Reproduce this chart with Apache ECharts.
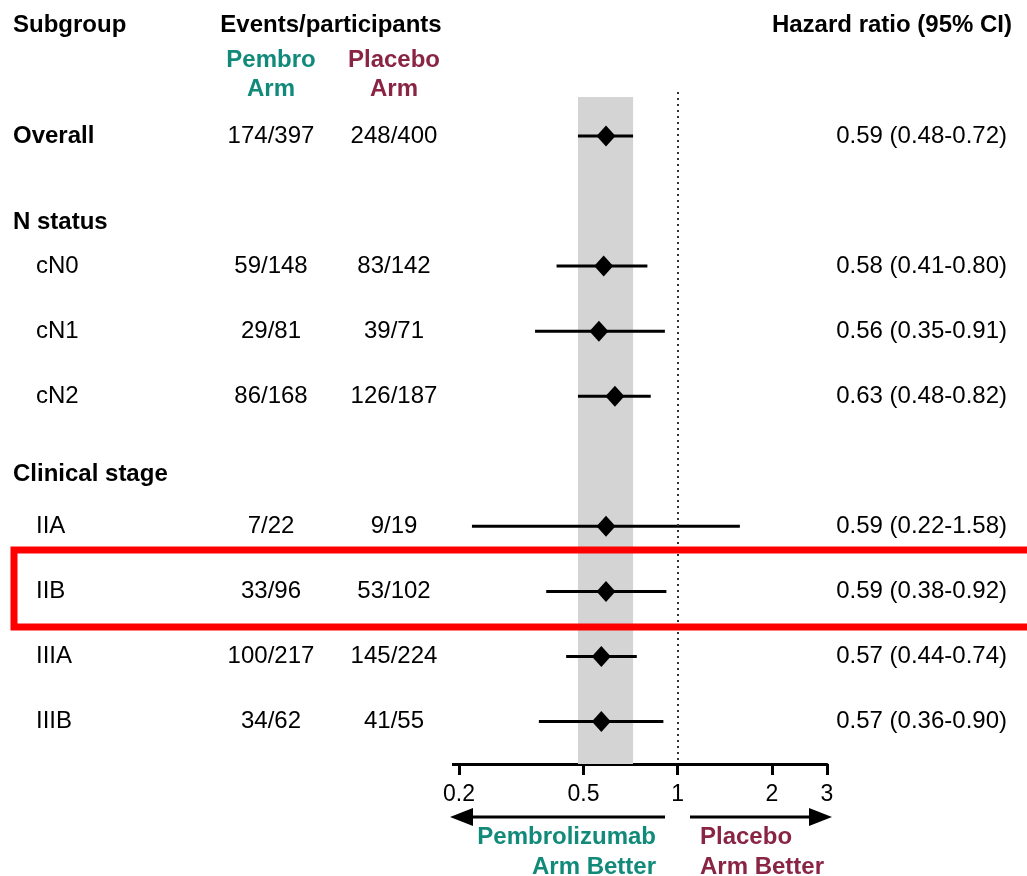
<!DOCTYPE html>
<html>
<head>
<meta charset="utf-8">
<title>Forest plot – subgroup hazard ratios</title>
<script src="https://cdn.jsdelivr.net/npm/echarts@6/dist/echarts.min.js"></script>
<style>
  html, body { margin: 0; padding: 0; background: #fff; }
  #chart { width: 1027px; height: 876px; }
</style>
</head>
<body>
<div id="chart"></div>
<script>
// ---- data ----
const subgroups = ['Overall', 'cN0', 'cN1', 'cN2', 'IIA', 'IIB', 'IIIA', 'IIIB'];
const sectionHeaders = ['N status', 'Clinical stage'];
const pembroEvents = [174, 59, 29, 86, 7, 33, 100, 34];
const pembroTotal = [397, 148, 81, 168, 22, 96, 217, 62];
const placeboEvents = [248, 83, 39, 126, 9, 53, 145, 41];
const placeboTotal = [400, 142, 71, 187, 19, 102, 224, 55];
const hazardRatio = [0.59, 0.58, 0.56, 0.63, 0.59, 0.59, 0.57, 0.57];
const ciLow = [0.48, 0.41, 0.35, 0.48, 0.22, 0.38, 0.44, 0.36];
const ciHigh = [0.72, 0.80, 0.91, 0.82, 1.58, 0.92, 0.74, 0.90];
const axisTicks = [0.2, 0.5, 1, 2, 3];

// ---- layout (row slots on the shared vertical scale) ----
const subgroupSlot = [0, 2, 3, 4, 6, 7, 8, 9];
const subgroupIndented = [false, true, true, true, true, true, true, true];
const headerSlot = [1.33, 5.2];
const Y_MIN = -0.676, Y_MAX = 9.653, BAND_TOP = -0.6;
const GRID_TOP = 92, GRID_H = 672;
const COL_NAME = 13, COL_INDENT = 36, COL_PEMBRO = 271, COL_PLACEBO = 394, COL_HR = 1007;

const TEAL = '#118a7a';
const MAROON = '#8a2444';
const FONT = '"Liberation Sans", Arial, Helvetica, sans-serif';
const FS = 24;

const fmt = v => v.toFixed(2);

const chart = echarts.init(document.getElementById('chart'), null, { renderer: 'canvas' });

const nameData = subgroups.map((s, i) => ({ value: [subgroupIndented[i] ? COL_INDENT : COL_NAME, subgroupSlot[i]], name: s }));
// "Overall" is set in bold like the section headers
const boldNameData = nameData.filter((d, i) => !subgroupIndented[i])
  .concat(sectionHeaders.map((h, i) => ({ value: [COL_NAME, headerSlot[i]], name: h })));
const plainNameData = nameData.filter((d, i) => subgroupIndented[i]);

const pembroData = subgroups.map((s, i) => ({ value: [COL_PEMBRO, subgroupSlot[i]], name: pembroEvents[i] + '/' + pembroTotal[i] }));
const placeboData = subgroups.map((s, i) => ({ value: [COL_PLACEBO, subgroupSlot[i]], name: placeboEvents[i] + '/' + placeboTotal[i] }));
const hrTextData = subgroups.map((s, i) => ({
  value: [COL_HR, subgroupSlot[i]],
  name: fmt(hazardRatio[i]) + ' (' + fmt(ciLow[i]) + '-' + fmt(ciHigh[i]) + ')'
}));

const textLabel = (extra) => Object.assign({
  show: true, formatter: p => p.name, color: '#000',
  fontSize: FS, fontFamily: FONT
}, extra);

const textSeries = (data, label) => ({
  type: 'scatter', xAxisIndex: 1, yAxisIndex: 1, silent: true,
  symbolSize: 0, itemStyle: { opacity: 1 }, data: data, label: label, z: 5
});

const txt = (text, x, y, align, color, extra) => ({
  type: 'text',
  style: Object.assign({
    text: text, x: x, y: y,
    textAlign: align, align: align,
    textVerticalAlign: 'middle', verticalAlign: 'middle',
    fill: color, font: 'bold ' + FS + 'px ' + FONT
  }, extra || {})
});

const option = {
  animation: false,
  backgroundColor: '#ffffff',
  grid: [
    { left: 459, width: 368, top: GRID_TOP, height: GRID_H },
    { left: 0, width: 1027, top: GRID_TOP, height: GRID_H }
  ],
  xAxis: [
    {
      type: 'log', logBase: 10, min: 0.2, max: 3, gridIndex: 0,
      splitLine: { show: false },
      axisLine: { show: true, onZero: false, lineStyle: { color: '#000', width: 3 } },
      axisTick: { show: true, customValues: axisTicks, length: 11, inside: false, lineStyle: { color: '#000', width: 3 } },
      minorTick: { show: false },
      axisLabel: {
        show: true, customValues: axisTicks, margin: 19, color: '#000',
        fontSize: 23, fontFamily: FONT,
        formatter: v => String(+(+v).toPrecision(6))
      }
    },
    { type: 'value', min: 0, max: 1027, gridIndex: 1, show: false }
  ],
  yAxis: [
    { type: 'value', min: Y_MIN, max: Y_MAX, inverse: true, gridIndex: 0, show: false },
    { type: 'value', min: Y_MIN, max: Y_MAX, inverse: true, gridIndex: 1, show: false }
  ],
  series: [
    // confidence-interval whiskers, with the overall CI band and the line of no effect
    {
      type: 'custom', xAxisIndex: 0, yAxisIndex: 0, silent: true, z: 3,
      data: subgroups.map((s, i) => [ciLow[i], ciHigh[i], subgroupSlot[i]]),
      encode: { x: [0, 1], y: 2 },
      renderItem: (params, api) => {
        const a = api.coord([api.value(0), api.value(2)]);
        const b = api.coord([api.value(1), api.value(2)]);
        return {
          type: 'line',
          shape: { x1: a[0], y1: a[1], x2: b[0], y2: b[1] },
          style: { stroke: '#000', lineWidth: 3 }
        };
      },
      markArea: {
        silent: true,
        itemStyle: { color: '#d4d4d4' },
        data: [[{ coord: [ciLow[0], BAND_TOP] }, { coord: [ciHigh[0], Y_MAX] }]],
        z: 1
      },
      markLine: {
        silent: true, symbol: ['none', 'none'],
        label: { show: false },
        lineStyle: { color: '#333', width: 2, type: [2, 4] },
        data: [{ xAxis: 1 }]
      }
    },
    // point estimates
    {
      type: 'scatter', xAxisIndex: 0, yAxisIndex: 0, silent: true, z: 4,
      symbol: 'diamond', symbolSize: [19, 21],
      itemStyle: { color: '#000', opacity: 1 },
      data: subgroups.map((s, i) => [hazardRatio[i], subgroupSlot[i]])
    },
    textSeries(boldNameData, textLabel({ position: 'right', distance: 0, fontWeight: 'bold' })),
    textSeries(plainNameData, textLabel({ position: 'right', distance: 0 })),
    textSeries(pembroData, textLabel({ position: 'inside' })),
    textSeries(placeboData, textLabel({ position: 'inside' })),
    textSeries(hrTextData, textLabel({ position: 'left', distance: 0 }))
  ],
  graphic: [
    // column headings
    txt('Subgroup', COL_NAME, 25, 'left', '#000'),
    txt('Events/participants', 331, 25, 'center', '#000'),
    txt('Hazard ratio (95% CI)', 1012, 25, 'right', '#000'),
    txt('Pembro\nArm', 271, 75, 'center', TEAL, { lineHeight: 29 }),
    txt('Placebo\nArm', 394, 75, 'center', MAROON, { lineHeight: 29 }),

    // axis line runs a little past the lowest tick
    { type: 'line', shape: { x1: 452, y1: 764.5, x2: 460, y2: 764.5 }, style: { stroke: '#000', lineWidth: 3 } },

    // direction arrows under the axis
    { type: 'line', shape: { x1: 665, y1: 817, x2: 470, y2: 817 }, style: { stroke: '#000', lineWidth: 3 } },
    { type: 'polygon', shape: { points: [[450, 817], [473, 808], [473, 826]] }, style: { fill: '#000' } },
    { type: 'line', shape: { x1: 690, y1: 817, x2: 812, y2: 817 }, style: { stroke: '#000', lineWidth: 3 } },
    { type: 'polygon', shape: { points: [[832, 817], [809, 808], [809, 826]] }, style: { fill: '#000' } },
    txt('Pembrolizumab\nArm Better', 656, 852, 'right', TEAL, { lineHeight: 30 }),
    txt('Placebo\nArm Better', 700, 852, 'left', MAROON, { lineHeight: 30 }),

    // highlight frame around the IIB row
    { type: 'rect', shape: { x: 14, y: 550, width: 1030, height: 77 }, style: { fill: 'none', stroke: '#ff0000', lineWidth: 7 }, z: 100 }
  ]
};

chart.setOption(option);
</script>
</body>
</html>
